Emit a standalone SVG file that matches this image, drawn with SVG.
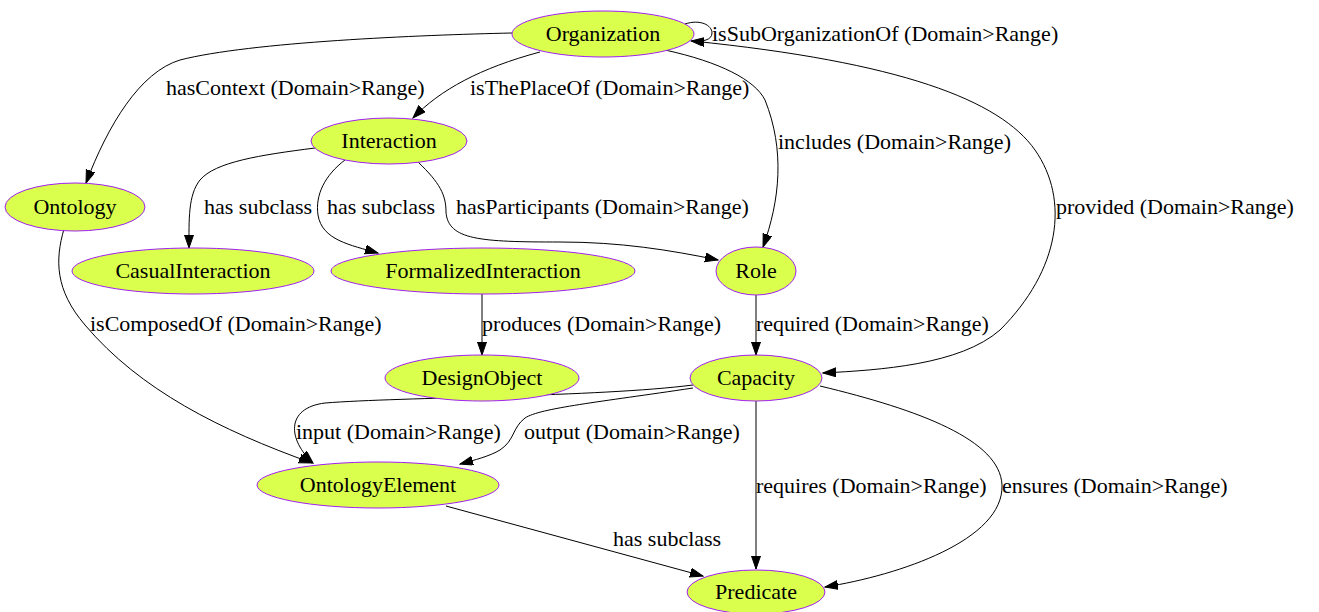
<svg xmlns="http://www.w3.org/2000/svg" width="1319" height="612" viewBox="0 0 1319 612" font-family="Liberation Serif, Times New Roman, serif" font-size="22">
<style>
.node ellipse{fill:#dbff4d;stroke:#a020f0;stroke-width:1}
.node text{fill:#000;text-anchor:middle}
.edges path{fill:none;stroke:#000;stroke-width:1;marker-end:url(#arr)}
.edges text{fill:#000}
</style>
<defs>
<marker id="arr" markerUnits="userSpaceOnUse" markerWidth="14" markerHeight="10" refX="13" refY="4.5" orient="auto">
<path d="M0,0 L13,4.5 L0,9 z" fill="#000" stroke="#000" stroke-width="1"/>
</marker>
</defs>
<rect width="1319" height="612" fill="#fff"/>
<g class="edges" font-family="Liberation Serif, serif">
<path d="M685,24 C700,19 712,25 712,33 C712,40 703,42 691,41"/>
<text x="712" y="41">isSubOrganizationOf (Domain&gt;Range)</text>
<path d="M512,33 C420,35 250,42 180,60 C140,72 108,125 86,183"/>
<text x="166" y="95">hasContext (Domain&gt;Range)</text>
<path d="M540,52 C480,68 440,90 413,118"/>
<text x="470" y="95">isThePlaceOf (Domain&gt;Range)</text>
<path d="M665,50 C720,62 755,80 765,100 C785,150 780,200 763,247"/>
<text x="778" y="149">includes (Domain&gt;Range)</text>
<path d="M692,41 C900,62 1000,100 1035,150 C1070,200 1060,270 1000,330 C960,365 880,370 823,373"/>
<text x="1056" y="214">provided (Domain&gt;Range)</text>
<path d="M315,148 C260,155 215,162 200,180 C188,195 189,220 189,248"/>
<text x="204" y="214">has subclass</text>
<path d="M345,160 C325,175 315,195 318,215 C322,240 350,245 378,253"/>
<text x="327" y="214">has subclass</text>
<path d="M418,162 C440,183 446,195 446,212 C448,240 480,242 560,242 C620,242 670,250 718,260"/>
<text x="456" y="214">hasParticipants (Domain&gt;Range)</text>
<path d="M482,294 L482,355"/>
<text x="482" y="331">produces (Domain&gt;Range)</text>
<path d="M756,295 L756,355"/>
<text x="756" y="331">required (Domain&gt;Range)</text>
<path d="M64,229 C55,260 55,290 85,325 C140,390 220,430 312,463"/>
<text x="90" y="331">isComposedOf (Domain&gt;Range)</text>
<path d="M693,385 C600,397 400,397 325,403 C285,408 288,440 313,463"/>
<text x="296" y="439">input (Domain&gt;Range)</text>
<path d="M693,388 C600,402 540,408 525,418 C512,428 515,440 500,450 C490,456 475,460 460,464"/>
<text x="524" y="439">output (Domain&gt;Range)</text>
<path d="M446,506 L703,576"/>
<text x="613" y="546">has subclass</text>
<path d="M756,401 L756,569"/>
<text x="756" y="493">requires (Domain&gt;Range)</text>
<path d="M820,386 C920,410 1000,440 1002,485 C1004,540 900,575 825,587"/>
<text x="1002" y="493">ensures (Domain&gt;Range)</text>
</g>
<g id="Organization" class="node"><ellipse cx="603" cy="34" rx="91" ry="23"/><text x="603" y="41">Organization</text></g>
<g id="Interaction" class="node"><ellipse cx="389" cy="141" rx="78" ry="23"/><text x="389" y="148">Interaction</text></g>
<g id="Ontology" class="node"><ellipse cx="75" cy="207" rx="70" ry="24"/><text x="75" y="214">Ontology</text></g>
<g id="CasualInteraction" class="node"><ellipse cx="193" cy="271" rx="121" ry="23"/><text x="193" y="278">CasualInteraction</text></g>
<g id="FormalizedInteraction" class="node"><ellipse cx="483" cy="271" rx="152" ry="23"/><text x="483" y="278">FormalizedInteraction</text></g>
<g id="Role" class="node"><ellipse cx="756" cy="271" rx="40" ry="24"/><text x="756" y="278">Role</text></g>
<g id="DesignObject" class="node"><ellipse cx="482" cy="378" rx="97" ry="23"/><text x="482" y="385">DesignObject</text></g>
<g id="Capacity" class="node"><ellipse cx="756" cy="378" rx="66" ry="23"/><text x="756" y="385">Capacity</text></g>
<g id="OntologyElement" class="node"><ellipse cx="378" cy="485" rx="121" ry="23"/><text x="378" y="492">OntologyElement</text></g>
<g id="Predicate" class="node"><ellipse cx="756" cy="592" rx="69" ry="22"/><text x="756" y="599">Predicate</text></g>
</svg>
